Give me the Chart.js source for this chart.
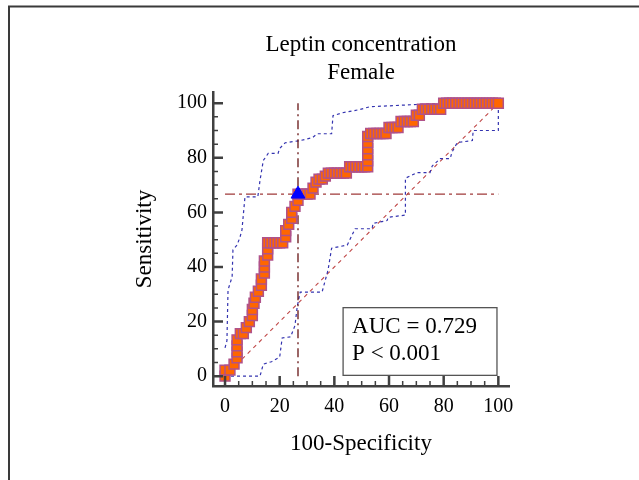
<!DOCTYPE html>
<html><head><meta charset="utf-8">
<script src="https://cdn.jsdelivr.net/npm/chart.js@4"></script>
<style>html,body{margin:0;padding:0;background:#fff;overflow:hidden}#wrap{position:relative;width:639px;height:480px}</style>
</head><body><div id="wrap"><canvas id="c" width="639" height="480"></canvas></div>
<script>
// ---- data ----
const titleLines = ['Leptin concentration', 'Female'];
const xTitle = '100-Specificity';
const yTitle = 'Sensitivity';
const xTicks = [0, 20, 40, 60, 80, 100];
const yTicks = [0, 20, 40, 60, 80, 100];
const minorTicks = [5, 10, 15, 25, 30, 35, 45, 50, 55, 65, 70, 75, 85, 90, 95];

const rocX = [0, 0, 1.8, 3.3, 4.4, 4.4, 4.4, 4.4, 5.6, 6.7, 7.8, 8.9, 10, 10, 10.6, 11.1, 12.2, 13.3, 13.3,
  14.4, 14.4, 14.4, 15.6, 15.6, 15.6, 16.7, 17.8, 18.9, 20, 21.1, 22.2, 22.2, 23.3, 24.4, 24.4, 25.6, 26.7, 26.7,
  27.8, 28.9, 30, 31.1, 32.2, 33.3, 34.4, 35.6, 36.7, 37.8, 38.9, 40, 41.1, 42.2, 43.3, 44.4, 45.6, 46.7, 47.8, 48.9, 50, 51.1,
  52.2, 52.2, 52.2, 52.2, 52.2, 52.2, 53.3, 54.4, 55.6, 56.7, 57.8, 58.9, 60, 61.1, 62.2, 63.3, 64.4, 65.6, 66.7, 67.8, 68.9,
  70, 71.1, 72.2, 73.3, 74.4, 75.6, 76.7, 77.8, 78.9, 80, 81.1, 82.2, 83.3, 84.4, 85.6, 86.7, 87.8, 88.9, 90, 91.1, 92.2,
  93.3, 94.4, 95.6, 96.7, 97.8, 98.9, 100];
const rocY = [0, 2.2, 2.2, 4.4, 6.7, 8.9, 11.1, 13.3, 15.6, 15.6, 17.8, 20, 22.2, 24.4, 26.7, 28.9, 31.1, 33.3, 35.6,
  37.8, 40, 42.2, 44.4, 46.7, 48.9, 48.9, 48.9, 48.9, 48.9, 48.9, 51.1, 53.3, 55.6, 57.8, 60, 62.2, 64.4, 66.7,
  66.7, 66.7, 66.7, 66.7, 68.9, 71.1, 72.2, 72.2, 73.3, 74.4, 74.4, 74.4, 74.4, 74.4, 74.4, 74.4, 76.7, 76.7, 76.7, 76.7, 76.7, 76.7,
  76.7, 78.9, 81.1, 83.3, 85.6, 87.8, 88.9, 88.9, 88.9, 88.9, 88.9, 88.9, 91.1, 91.1, 91.1, 91.1, 93.3, 93.3, 93.3, 93.3, 93.3,
  95.6, 95.6, 97.8, 97.8, 97.8, 97.8, 97.8, 97.8, 97.8, 100, 100, 100, 100, 100, 100, 100, 100, 100, 100, 100, 100,
  100, 100, 100, 100, 100, 100, 100];

const upperX = [0, 0.7, 1.1, 2.6, 2.9, 4.4, 5.5, 6.2, 7.3, 12, 12.8, 14, 15.8, 19.4, 20, 22, 27.5, 32, 33.7, 39, 39.5, 43, 49, 53, 80, 100];
const upperY = [10.4, 13, 31.6, 36.4, 46.3, 48, 51, 53.6, 65.7, 65.7, 71.7, 79, 81.6, 81.6, 83.4, 85.5, 86.3, 87.4, 88.8, 88.8, 95.4, 96.5, 97.6, 98.7, 100, 100];
const lowerX = [0, 12.8, 14, 17, 20, 20.9, 24, 25.6, 26.4, 27.5, 35.5, 37.7, 39, 44.7, 47.6, 53.8, 54.2, 59.3, 59.7, 66, 66, 70.3, 75, 75.8, 78.8, 82.4, 83, 85, 90.5, 90.8, 100, 100, 100];
const lowerY = [0, 0, 4.4, 5.3, 7, 14, 14.4, 18.6, 25.4, 30.8, 30.8, 38.9, 46.9, 48, 54, 54, 56, 57, 58.2, 59, 72.5, 74.6, 74.6, 77, 79.7, 79.7, 82, 85.6, 86.3, 90, 90, 98, 100];

const diagX = [0, 100];
const diagY = [0, 100];
const cutX = 26.7;   // 100-specificity at the criterion
const cutY = 66.7;   // sensitivity at the criterion
const aucLines = ['AUC = 0.729', 'P < 0.001'];

// ---- build ----
const pts = (xs, ys) => xs.map((x, i) => ({x: x, y: ys[i]}));
const SERIF = "'Liberation Serif', 'Times New Roman', serif";

const extras = {
  id: 'extras',
  beforeDraw(chart) {
    const ctx = chart.ctx;
    ctx.save();
    ctx.strokeStyle = '#3a3a3a';
    ctx.lineWidth = 2;
    ctx.beginPath();
    ctx.moveTo(9, 480);
    ctx.lineTo(9, 6.5);
    ctx.lineTo(639, 6.5);
    ctx.stroke();
    ctx.restore();
  },
  afterDatasetsDraw(chart) {
    const ctx = chart.ctx;
    const xs = chart.scales.x, ys = chart.scales.y;
    // AUC box
    const l = xs.getPixelForValue(43.2), r = xs.getPixelForValue(99.5);
    const t = ys.getPixelForValue(25.1), b = ys.getPixelForValue(0.3);
    ctx.save();
    ctx.fillStyle = '#fff';
    ctx.fillRect(l, t, r - l, b - t);
    ctx.strokeStyle = '#555';
    ctx.lineWidth = 1.3;
    ctx.strokeRect(l, t, r - l, b - t);
    ctx.fillStyle = '#000';
    ctx.font = '23px ' + SERIF;
    ctx.textBaseline = 'middle';
    ctx.textAlign = 'left';
    ctx.fillText(aucLines[0], l + 9, t + 19);
    ctx.fillText(aucLines[1], l + 9, t + 46);
    ctx.restore();
  },
  afterDraw(chart) {
    const ctx = chart.ctx;
    const xs = chart.scales.x, ys = chart.scales.y;
    const ca = chart.chartArea;
    ctx.save();
    ctx.strokeStyle = '#404040';
    const tick = (vals, len, w) => {
      ctx.lineWidth = w;
      ctx.beginPath();
      vals.forEach(v => {
        const px = xs.getPixelForValue(v);
        ctx.moveTo(px, ca.bottom);
        ctx.lineTo(px, ca.bottom - len);
        const py = ys.getPixelForValue(v);
        ctx.moveTo(ca.left, py);
        ctx.lineTo(ca.left + len, py);
      });
      ctx.stroke();
    };
    tick(xTicks, 10, 2.5);
    tick(minorTicks, 5, 1.5);
    ctx.restore();
  }
};

new Chart(document.getElementById('c'), {
  type: 'scatter',
  data: {
    datasets: [
      {label: 'criterion', data: [{x: cutX, y: cutY}], pointStyle: 'triangle', pointRadius: 8,
        backgroundColor: '#0000ff', borderColor: '#0000ff', borderWidth: 1, order: 0},
      {label: 'ROC', data: pts(rocX, rocY), showLine: true, borderColor: '#ff6600', borderWidth: 1.5,
        pointStyle: 'rect', pointRadius: 7, backgroundColor: '#ff6600', pointBorderColor: '#b0528a',
        pointBorderWidth: 1.5, order: 1},
      {label: 'hline', data: [{x: 0, y: cutY}, {x: 100, y: cutY}], showLine: true, borderColor: '#a03a3a',
        borderWidth: 1.2, borderDash: [10, 4, 3, 4], pointRadius: 0, order: 2},
      {label: 'vline', data: [{x: cutX, y: 0}, {x: cutX, y: 100}], showLine: true, borderColor: '#5a0000',
        borderWidth: 1.2, borderDash: [9, 4, 2, 4], pointRadius: 0, order: 3},
      {label: 'upper', data: pts(upperX, upperY), showLine: true, borderColor: '#3434b0', borderWidth: 1.2,
        borderDash: [3, 3], pointRadius: 0, order: 4},
      {label: 'lower', data: pts(lowerX, lowerY), showLine: true, borderColor: '#3434b0', borderWidth: 1.2,
        borderDash: [3, 3], pointRadius: 0, order: 5},
      {label: 'diag', data: pts(diagX, diagY), showLine: true, borderColor: '#c04848', borderWidth: 1.1,
        borderDash: [4, 4], pointRadius: 0, order: 6}
    ]
  },
  options: {
    responsive: false,
    animation: false,
    devicePixelRatio: 1,
    layout: {padding: {left: 125, right: 130, top: 20, bottom: 20}},
    plugins: {
      legend: {display: false},
      tooltip: {enabled: false},
      title: {display: true, text: titleLines, fullSize: false, color: '#000',
        font: {family: SERIF, size: 23, weight: 'normal', lineHeight: 28 / 23},
        padding: {top: 11, bottom: 5}}
    },
    scales: {
      x: {
        type: 'linear', min: -4.4, max: 103.9,
        afterBuildTicks: s => { s.ticks = xTicks.map(v => ({value: v})); },
        afterFit: s => { s.height = 74; },
        grid: {display: false, drawTicks: false},
        border: {display: true, color: '#404040', width: 2.5},
        ticks: {color: '#000', padding: 9, font: {family: SERIF, size: 20}, maxRotation: 0},
        title: {display: true, text: xTitle, color: '#000', font: {family: SERIF, size: 23, lineHeight: 28 / 23},
          padding: {top: 0, bottom: 2}}
      },
      y: {
        type: 'linear', min: -3.6, max: 104.1,
        afterBuildTicks: s => { s.ticks = yTicks.map(v => ({value: v})); },
        afterFit: s => { s.width = 88; },
        grid: {display: false, drawTicks: false},
        border: {display: true, color: '#404040', width: 2.5},
        ticks: {color: '#000', padding: 6, font: {family: SERIF, size: 20}},
        title: {display: true, text: yTitle, color: '#000', font: {family: SERIF, size: 23, lineHeight: 28 / 23},
          padding: {top: 6, bottom: 0}}
      }
    }
  },
  plugins: [extras]
});
</script></body></html>
